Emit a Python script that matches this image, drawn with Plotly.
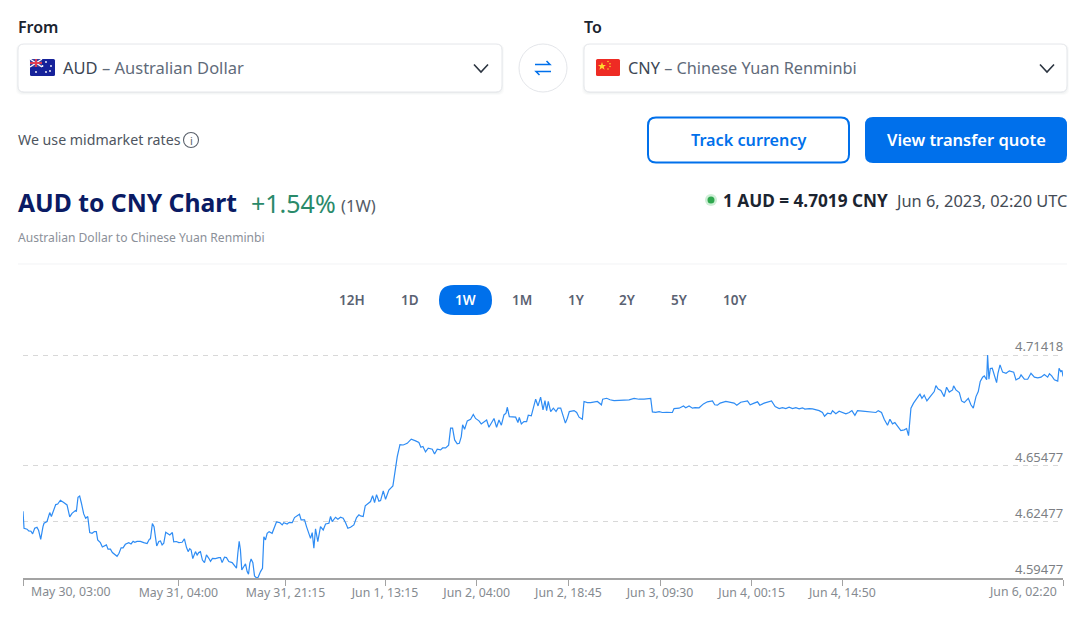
import pandas as pd
import plotly.graph_objects as go

# ---------- data ----------
start_time = "2023-05-30 03:00"
offset_minutes_a = [
0,10,39,55,77,93,113,135,151,171,
193,203,232,258,274,296,316,335,361,393,
425,451,473,506,515,531,547,564,586,605,
625,644,667,689,708,721,747,766,789,805,
821,844,863,889,908,927,947,966,988,1021,
1043,1063,1079,1101,1133,1166,1198,1220,1230,1249,
1265,1278,1291,1311,1327,1343,1359,1378,1397,1417,
1442,1455,1481,1504,1536,1558,1578,1594,1610,1623,
1639,1665,1681,1697,1713,1732,1752,1771,1794,1810,
1829,1858,1890,1906,1922,1945,1964,1987,2019,2045,
2061,2074,2087,2099,2112,2132,2148,2164,2177,2190,
2202,2219,2235,2254,2270,2293,2312,2325,2341,2357,
2376,2405,2428,2447,2479,2502,2518,2550,2570,2599,
2621,2647,2669,2685,2718,2737,2760,2776,2792,2808,
2824,2846,2872,2898,2921,2953,2969,2985,3017,3040,
3065,3091,3114,3136,3162,3194,3220,3243,3259]
rates_a = [
4.6305,4.6214,4.6209,4.6200,4.6198,4.6184,4.6214,4.6219,4.6202,4.6155,
4.6223,4.6241,4.6250,4.6298,4.6277,4.6309,4.6341,4.6344,4.6364,4.6352,
4.6339,4.6275,4.6294,4.6309,4.6303,4.6380,4.6387,4.6348,4.6291,4.6268,
4.6277,4.6191,4.6187,4.6196,4.6196,4.6152,4.6137,4.6114,4.6121,4.6125,
4.6102,4.6102,4.6084,4.6075,4.6064,4.6080,4.6109,4.6109,4.6128,4.6137,
4.6130,4.6144,4.6139,4.6144,4.6144,4.6137,4.6132,4.6155,4.6157,4.6239,
4.6223,4.6169,4.6119,4.6143,4.6146,4.6125,4.6134,4.6193,4.6184,4.6178,
4.6191,4.6141,4.6143,4.6137,4.6139,4.6157,4.6112,4.6089,4.6105,4.6098,
4.6052,4.6089,4.6071,4.6084,4.6089,4.6044,4.6030,4.6071,4.6053,4.6037,
4.6053,4.6052,4.6057,4.6057,4.6030,4.6059,4.6057,4.6036,4.6030,4.6009,
4.6000,4.6080,4.6144,4.6098,4.5991,4.6009,4.6023,4.5982,4.5968,4.6027,
4.6050,4.6030,4.5959,4.5948,4.5952,4.5982,4.6000,4.6169,4.6152,4.6187,
4.6196,4.6187,4.6223,4.6248,4.6244,4.6232,4.6244,4.6237,4.6246,4.6244,
4.6271,4.6282,4.6289,4.6259,4.6259,4.6223,4.6178,4.6160,4.6191,4.6107,
4.6211,4.6143,4.6223,4.6205,4.6237,4.6241,4.6277,4.6250,4.6273,4.6262,
4.6273,4.6268,4.6244,4.6214,4.6219,4.6232,4.6271,4.6286,4.6280]
offset_minutes_b = [
3284,3304,3330,3355,3375,3394,3413,3436,3452,3478,
3500,3532,3571,3590,3613,3639,3671,3709,3748,3790,
3822,3841,3861,3886,3912,3951,3973,3999,4031,4051,
4080,4109,4128,4147,4167,4192,4212,4231,4244,4263,
4289,4321,4347,4369,4402,4424,4450,4476,4498,4521,
4547,4572,4595,4618,4643,4663,4675,4695,4724,4756,
4778,4791,4811,4836,4862,4878,4907,4927,4949,4972,
4997,5020,5039,5055,5071,5094,5120,5146,5165,5191,
5210,5236,5255,5274,5320,5345,5368,5400,5416,5448,
5480,5513,5545,5584,5596,5635,5667,5706,5754,5802,
5851,5899,5947,5996,6060,6076,6108,6141,6173,6215,
6269,6285,6334,6376,6398,6430,6463,6488,6527,6569,
6607,6656,6678,6704,6730]
rates_b = [
4.6277,4.6334,4.6348,4.6357,4.6389,4.6352,4.6394,4.6359,4.6362,4.6414,
4.6369,4.6419,4.6441,4.6527,4.6598,4.6662,4.6660,4.6669,4.6691,4.6682,
4.6673,4.6648,4.6652,4.6623,4.6643,4.6637,4.6612,4.6637,4.6634,4.6644,
4.6644,4.6659,4.6750,4.6750,4.6687,4.6666,4.6669,4.6705,4.6768,4.6744,
4.6789,4.6798,4.6823,4.6802,4.6789,4.6773,4.6785,4.6794,4.6755,4.6777,
4.6802,4.6755,4.6794,4.6766,4.6821,4.6830,4.6862,4.6812,4.6812,4.6809,
4.6780,4.6807,4.6773,4.6785,4.6785,4.6819,4.6816,4.6866,4.6905,4.6869,
4.6916,4.6848,4.6898,4.6844,4.6893,4.6839,4.6857,4.6839,4.6857,4.6857,
4.6821,4.6777,4.6803,4.6839,4.6844,4.6834,4.6809,4.6798,4.6893,4.6887,
4.6887,4.6889,4.6893,4.6875,4.6905,4.6910,4.6902,4.6898,4.6898,4.6900,
4.6902,4.6909,4.6905,4.6905,4.6909,4.6837,4.6835,4.6839,4.6834,4.6835,
4.6834,4.6855,4.6857,4.6869,4.6859,4.6869,4.6857,4.6860,4.6859,4.6880,
4.6891,4.6896,4.6875,4.6873,4.6884]
offset_minutes_c = [
6785,6833,6865,6891,6929,6994,7020,7058,7091,7113,
7155,7226,7261,7300,7332,7364,7396,7429,7461,7493,
7525,7548,7590,7622,7654,7686,7718,7738,7767,7799,
7815,7847,7879,7912,7944,7976,8002,8031,8056,8105,
8153,8201,8234,8256,8288,8314,8346,8369,8394,8417,
8443,8475,8507,8530,8549,8559,8572,8597,8620,8646,
8659,8678,8700,8726,8758,8797,8813,8835,8861,8893,
8916,8942,8974,8984,9006,9039,9061,9087,9126,9151,
9174,9200,9222,9241,9264,9280,9303,9312,9325,9338,
9357,9377,9399,9412,9432,9457,9490,9522,9564,9586,
9619,9635,9667,9699,9731,9764,9796,9828,9860,9892,
9909,9931,9957,9989,10002,10018,10030,10040]
rates_c = [
4.6893,4.6887,4.6884,4.6873,4.6889,4.6896,4.6875,4.6884,4.6891,4.6873,
4.6884,4.6896,4.6866,4.6855,4.6860,4.6855,4.6862,4.6855,4.6860,4.6853,
4.6859,4.6852,4.6855,4.6853,4.6848,4.6844,4.6834,4.6814,4.6830,4.6827,
4.6843,4.6827,4.6841,4.6834,4.6827,4.6834,4.6844,4.6819,4.6844,4.6841,
4.6837,4.6834,4.6834,4.6844,4.6834,4.6798,4.6766,4.6798,4.6773,4.6780,
4.6759,4.6737,4.6741,4.6748,4.6710,4.6803,4.6857,4.6884,4.6905,4.6923,
4.6932,4.6910,4.6927,4.6896,4.6919,4.6946,4.6978,4.6959,4.6952,4.6919,
4.6969,4.6943,4.6955,4.6977,4.6955,4.6941,4.6896,4.6887,4.6910,4.6875,
4.6857,4.6919,4.6946,4.7000,4.7023,4.7030,4.7009,4.71418,4.7012,4.7069,
4.7071,4.7027,4.6994,4.7044,4.7089,4.7050,4.7044,4.7057,4.7050,4.7009,
4.7018,4.7035,4.7012,4.7012,4.7044,4.7023,4.7019,4.7023,4.7037,4.7023,
4.7041,4.7030,4.7009,4.7002,4.7071,4.7053,4.7059,4.7027]

tick_times = ["2023-05-30 03:00","2023-05-31 04:00","2023-05-31 21:15","2023-06-01 13:15",
              "2023-06-02 04:00","2023-06-02 18:45","2023-06-03 09:30","2023-06-04 00:15",
              "2023-06-04 14:50","2023-06-06 02:20"]
tick_labels = ["May 30, 03:00","May 31, 04:00","May 31, 21:15","Jun 1, 13:15","Jun 2, 04:00",
               "Jun 2, 18:45","Jun 3, 09:30","Jun 4, 00:15","Jun 4, 14:50","Jun 6, 02:20"]
rate_ticks = [4.59477, 4.62477, 4.65477, 4.71418]
rate_tick_labels = ["4.59477", "4.62477", "4.65477", "4.71418"]
rate_axis_top = 4.71525
range_buttons = ["12H", "1D", "1W", "1M", "1Y", "2Y", "5Y", "10Y"]
active_range = "1W"

# ---------- page geometry ----------
W, H = 1080, 622
L, R, T, B = 23, 1063, 353, 578
FONT = "Noto Sans"
BLUE = "#0070eb"

def fx(x): return (x - L) / (R - L)
def fy(y): return (B - y) / (B - T)
def pt(x, y): return f"{fx(x):.5f},{fy(y):.5f}"

shapes, notes = [], []

def rrect(x0, y0, x1, y1, r, fill="rgba(0,0,0,0)", line=None, lw=1):
    d = (f"M{pt(x0+r,y0)} L{pt(x1-r,y0)} Q{pt(x1,y0)} {pt(x1,y0+r)} L{pt(x1,y1-r)} "
         f"Q{pt(x1,y1)} {pt(x1-r,y1)} L{pt(x0+r,y1)} Q{pt(x0,y1)} {pt(x0,y1-r)} "
         f"L{pt(x0,y0+r)} Q{pt(x0,y0)} {pt(x0+r,y0)} Z")
    shapes.append(dict(type="path", xref="paper", yref="paper", path=d, fillcolor=fill, layer="above",
                       line=dict(color=line or "rgba(0,0,0,0)", width=lw if line else 0)))

def poly(points, color=None, lw=1.5, fill=None):
    d = "M" + " L".join(pt(*p) for p in points) + (" Z" if fill else "")
    shapes.append(dict(type="path", xref="paper", yref="paper", path=d, layer="above",
                       fillcolor=fill or "rgba(0,0,0,0)",
                       line=dict(color=color or "rgba(0,0,0,0)", width=lw if color else 0)))

def circle(cx, cy, r, fill="rgba(0,0,0,0)", line=None, lw=1):
    shapes.append(dict(type="circle", xref="paper", yref="paper", layer="above",
                       x0=fx(cx-r), x1=fx(cx+r), y0=fy(cy+r), y1=fy(cy-r), fillcolor=fill,
                       line=dict(color=line or "rgba(0,0,0,0)", width=lw if line else 0)))

def text(x, y, s, size, color, weight=400, anchor="left"):
    notes.append(dict(xref="paper", yref="paper", x=fx(x), y=fy(y), text=s, showarrow=False,
                      xanchor=anchor, yanchor="middle", borderpad=0, borderwidth=0,
                      font=dict(family=FONT, size=size, color=color, weight=weight)))

def select_box(x0, x1):
    for k, a in ((3, .02), (2, .025), (1, .035)):
        rrect(x0-k+1, 44, x1+k-1, 92+k, 6, fill=f"rgba(20,30,50,{a})")
    rrect(x0, 44, x1, 92, 6, fill="#ffffff", line="#e4e6ea", lw=1)

# headers and selectors
text(18, 27, "From", 16, "#1b2430", 600)
text(584, 27, "To", 16, "#1b2430", 600)
select_box(18, 502)
select_box(584, 1067)
text(63, 67.8, "AUD <span style='color:#5f6b7a'>– Australian Dollar</span>", 16.5, "#3c4654")
text(628, 67.8, "CNY <span style='color:#5f6b7a'>– Chinese Yuan Renminbi</span>", 16.3, "#3c4654")
for cx in (481, 1047):
    poly([(cx-7, 64.5), (cx, 72), (cx+7, 64.5)], color="#2b3440", lw=1.6)

# Australian flag
rrect(30, 59, 55, 76, 1.5, fill="#16229a")
rrect(30, 59, 42, 67, 0.5, fill="#3a3f9e")
poly([(30, 59), (42, 67)], color="#ffffff", lw=1.4)
poly([(42, 59), (30, 67)], color="#ffffff", lw=1.4)
poly([(36, 59), (36, 67)], color="#e8394a", lw=1.8)
poly([(30, 63), (42, 63)], color="#e8394a", lw=1.8)
for sx, sy in ((36, 72), (46, 62), (51, 66), (46, 72), (42.5, 66), (50, 71)):
    circle(sx, sy, 0.9, fill="#ffffff")

# Chinese flag
rrect(596, 59, 620, 76, 1.5, fill="#ee2b24")
poly([(602, 62), (603, 65), (606, 65), (603.7, 66.8), (604.6, 69.7), (602, 68), (599.4, 69.7),
      (600.3, 66.8), (598, 65), (601, 65)], fill="#ffd92e")
for sx, sy in ((608, 61.5), (610, 63.8), (610, 66.6), (608, 69)):
    circle(sx, sy, 0.75, fill="#ffd92e")

# swap button
circle(543, 68, 24, fill="#ffffff", line="#e4e6ea", lw=1)
poly([(535, 64.5), (550, 64.5), (546.5, 61)], color=BLUE, lw=1.5)
poly([(551, 71.5), (536, 71.5), (539.5, 75)], color=BLUE, lw=1.5)

# mid-market row and buttons
text(18, 139.5, "We use midmarket rates", 14.2, "#4e5560")
circle(191, 140, 7.5, line="#5a616b", lw=1.1)
text(191, 140.5, "i", 11, "#5a616b", 400, "center")
rrect(648, 117.5, 849, 162.5, 8, fill="#ffffff", line=BLUE, lw=2)
rrect(865, 117, 1067, 163, 8, fill=BLUE)
text(748.5, 139.8, "Track currency", 16.2, BLUE, 600, "center")
text(966, 139.8, "View transfer quote", 16.5, "#ffffff", 600, "center")

# heading
text(18, 202.8, "AUD to CNY Chart", 24.7, "#0a1b64", 700)
text(251, 202.5, "+1.54%", 25, "#2a8a6a", 400)
text(341, 205, "(1W)", 16.5, "#555b66", 400)
text(18, 237, "Australian Dollar to Chinese Yuan Renminbi", 12.1, "#8b9099", 400)
circle(711, 200, 6, fill="rgba(60,190,90,.25)")
circle(711, 200, 3.5, fill="#2fa84f")
text(723, 200, "1 AUD = 4.7019 CNY", 17.2, "#1b2430", 700)
text(1067, 200, "Jun 6, 2023, 02:20 UTC", 16.4, "#444b55", 400, "right")
poly([(18, 264), (1067, 264)], color="#f2f3f5", lw=1)

# range selector
range_centers = [352, 410, 465.5, 522, 576, 627, 679, 735]
for name, cx in zip(range_buttons, range_centers):
    if name == active_range:
        rrect(439, 285, 492, 315, 15, fill=BLUE)
    text(cx, 300, name, 13.5, "#ffffff" if name == active_range else "#5a6272", 600, "center")

# edge tick labels are pulled inward from their ticks
XFONT = dict(family=FONT, size=12.3, color="#858a90")
notes.append(dict(xref="x", yref="paper", x=tick_times[0], y=fy(591), xshift=7, text=tick_labels[0],
                  showarrow=False, xanchor="left", yanchor="middle", borderpad=0, font=XFONT))
notes.append(dict(xref="x", yref="paper", x=tick_times[-1], y=fy(591), xshift=-5, text=tick_labels[-1],
                  showarrow=False, xanchor="right", yanchor="middle", borderpad=0, font=XFONT))
# rate labels sit just above their gridlines
for v, s in zip(rate_ticks, rate_tick_labels):
    notes.append(dict(xref="paper", yref="y", x=1, y=v, xshift=1, yshift=9, text=s, showarrow=False,
                      xanchor="right", yanchor="middle", borderpad=0,
                      font=dict(family=FONT, size=13, color="#7c7f84")))

# ---------- chart ----------
minutes = offset_minutes_a + offset_minutes_b + offset_minutes_c
rates = rates_a + rates_b + rates_c
times = pd.Timestamp(start_time) + pd.to_timedelta(minutes, unit="m")

fig = go.Figure(go.Scatter(x=times, y=rates, mode="lines", cliponaxis=False,
                           line=dict(color="#2e8cf4", width=1.2), hoverinfo="skip"))
fig.update_layout(
    width=W, height=H, margin=dict(l=L, r=W-R, t=T, b=H-B, pad=0, autoexpand=False),
    paper_bgcolor="#ffffff", plot_bgcolor="#ffffff", showlegend=False,
    font=dict(family=FONT), shapes=shapes, annotations=notes,
    xaxis=dict(type="date", range=[tick_times[0], tick_times[-1]], tickmode="array",
               tickvals=tick_times, ticktext=[""] + tick_labels[1:-1] + [""], showgrid=False,
               zeroline=False, showline=True, linecolor="#a3a3a3", linewidth=1.5, ticks="outside",
               ticklen=6, tickcolor="#a3a3a3", tickwidth=1, ticklabelstandoff=-4, tickfont=XFONT),
    yaxis=dict(range=[rate_ticks[0], rate_axis_top], tickmode="array", tickvals=rate_ticks,
               showticklabels=False, side="right", showgrid=True, gridcolor="#d8d8d8", gridwidth=1,
               griddash="5px,5px", zeroline=False, showline=False, ticks=""),
)
fig.write_html("out.html", config={"displayModeBar": False},
               post_script="document.body.style.margin='0';document.body.style.overflow='hidden';")
